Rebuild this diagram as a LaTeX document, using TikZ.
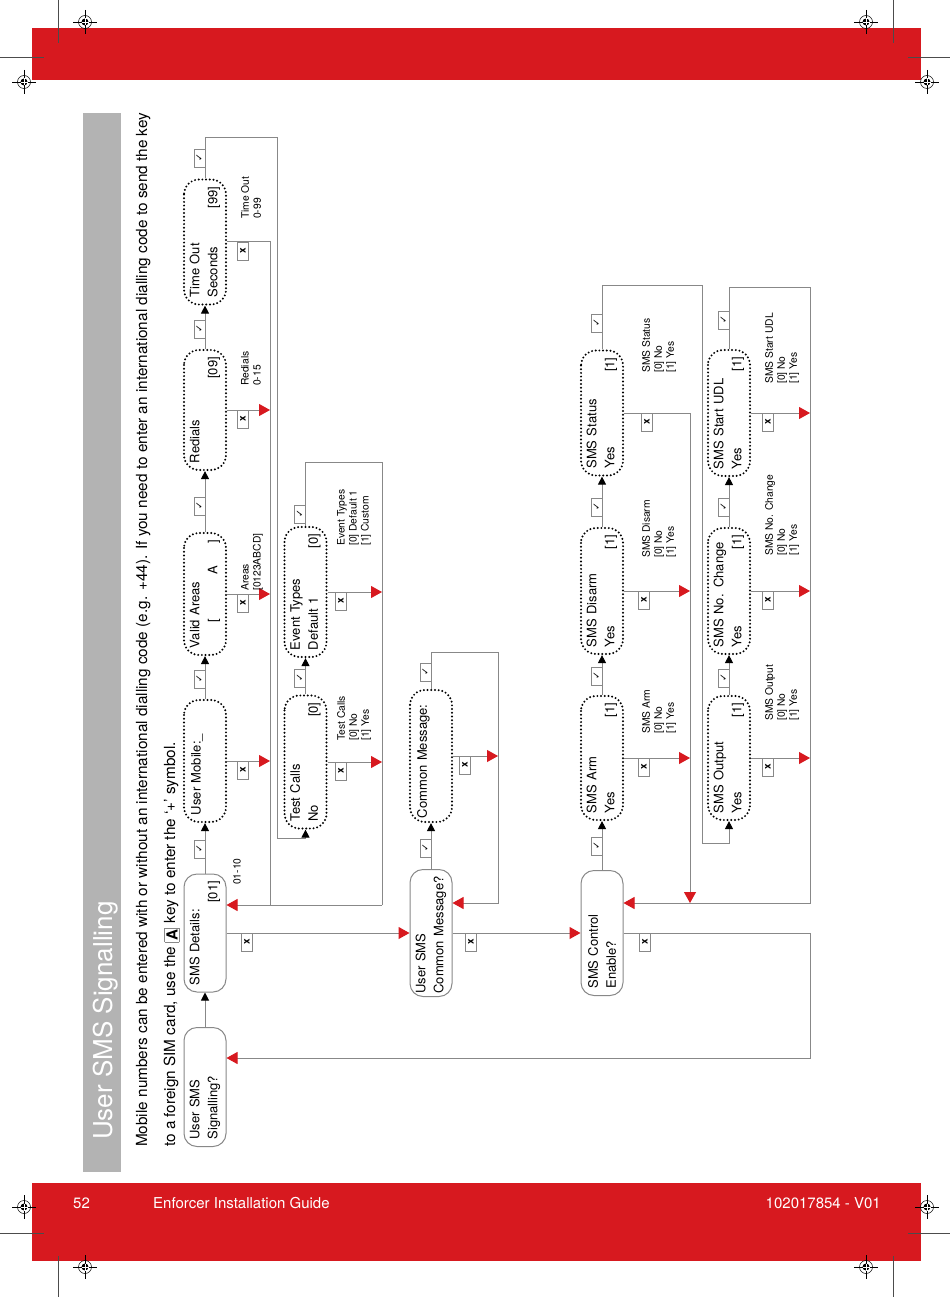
\documentclass[tikz,border=0pt]{standalone}
\usepackage{fontspec}
\setmainfont{TeX Gyre Heros}
\newfontfamily\dv{DejaVu Sans}
\usetikzlibrary{arrows.meta,calc}
\definecolor{hred}{HTML}{D7191F}
\definecolor{lgray}{HTML}{888888}
\definecolor{band}{HTML}{B3B3B3}
\newcommand\akey{\raisebox{-2.5pt}{\setlength\fboxsep{1.5pt}\fcolorbox{lgray}{white}{\bfseries A}}}
\begin{document}
\begin{tikzpicture}[x=1pt,y=-1pt,
  ln/.style={draw=lgray, line width=1pt},
  blk/.style={-{Triangle[length=8pt,width=8pt,color=black]}},
  rd/.style={-{Triangle[length=11pt,width=12pt,color=hred]}},
  bw/.code={\pgfmathsetmacro\tw{#1-14}\tikzset{text width=\tw pt, minimum width=#1pt}},
  boxbase/.style={rotate=90, minimum height=42pt, inner xsep=7pt, inner ysep=0pt, align=left, font=\fontsize{13}{18}\selectfont},
  sbox/.style={boxbase, draw=lgray, line width=1pt, rounded corners=13pt, fill=white},
  dbox/.style={boxbase, draw=black, line width=2.2pt, dash pattern=on 0pt off 3.7pt, line cap=round, rounded corners=15pt},
  ck/.style={rotate=90, draw=lgray, line width=0.8pt, fill=white, minimum width=18pt, minimum height=11pt, inner sep=0pt, font=\dv\fontsize{9.5}{9.5}\selectfont},
  xk/.style={ck, font=\bfseries\fontsize{10}{10}\selectfont},
  lab/.style={rotate=90, anchor=north west, inner sep=0pt, align=left, font=\fontsize{10.3}{12}\selectfont},
  regmark/.pic={
    \draw[line width=0.5pt] (0,0) circle (6.5);
    \fill (0,0) circle (3.5);
    \draw[line width=0.5pt] (-12,0) -- (12,0) (0,-12) -- (0,12);
    \draw[white, line width=0.6pt] (-3.5,0) -- (3.5,0) (0,-3.5) -- (0,3.5);
  },
]
\useasboundingbox (0,0) rectangle (950,1297);
\fill[white] (0,0) rectangle (950,1297);
% bands
\fill[hred] (32,28) rectangle (921,80);
\fill[hred] (32,1183) rectangle (921,1261);
\fill[band] (83,113) rectangle (121,1172);
% crop marks
\draw[line width=0.5pt, black!70] (58,0) -- (58,43) (893,0) -- (893,43) (0,57) -- (44,57) (908,57) -- (950,57)
  (0,1233) -- (44,1233) (908,1233) -- (950,1233) (58,1256) -- (58,1297) (893,1256) -- (893,1297);
\pic at (85,22) {regmark};
\pic at (866,22) {regmark};
\pic at (24,82) {regmark};
\pic at (927,82) {regmark};
\pic at (24,1207) {regmark};
\pic at (927,1207) {regmark};
\pic at (85,1267) {regmark};
\pic at (866,1267) {regmark};
% footer
\node[anchor=base west, inner sep=0pt, text=white, font=\fontsize{15}{15}\selectfont] (pg) at (73,1208) {52};
\node[anchor=base west, inner sep=0pt, text=white, font=\fontsize{15}{15}\selectfont] (gd) at (153,1208) {Enforcer Installation Guide};
\node[anchor=base east, inner sep=0pt, text=white, font=\fontsize{15}{15}\selectfont] (ver) at (881,1208) {102017854 - V01};
% title and intro
\node[rotate=90, anchor=base west, inner sep=0pt, text=white, font=\fontsize{26}{26}\selectfont] (title) at (112,1140) {User SMS Signalling};
\node[rotate=90, anchor=base west, inner sep=0pt, font=\fontsize{15.3}{18}\selectfont] (l1) at (147,1147) {\makebox[1034pt][s]{Mobile numbers can be entered with or without an international dialling code (e.g. +44). If you need to enter an international dialling code to send the key}};
\node[rotate=90, anchor=base west, inner sep=0pt, font=\fontsize{15.3}{18}\selectfont] (l2) at (175,1147) {to a foreign SIM card, use the \akey\ key to enter the ‘+’ symbol.};
% ---- nodes
\node[sbox,bw=119] (sig) at (205,1087) {User SMS\\Signalling?};
\node[sbox,bw=118] (det) at (205,933) {SMS Details:\\\hfill[01]};
\node[dbox,bw=122] (mob) at (205,761) {User Mobile:\_\\\mbox{}};
\node[dbox,bw=122] (area) at (205,594) {Valid Areas\\\hspace*{26pt}[\hspace{44pt}A\hfill]};
\node[dbox,bw=120] (red) at (205,410) {Redials\\\hfill[09]};
\node[dbox,bw=125] (tout) at (205,242) {Time Out\\Seconds\hfill[99]};
\node[dbox,bw=133] (tc) at (305.5,762) {Test Calls\\No\hfill[0]};
\node[dbox,bw=130] (et) at (305.5,592) {Event Types\\Default 1\hfill[0]};
\node[sbox, minimum width=127pt, text width=121pt, inner xsep=3pt] (ucm) at (431,933) {User SMS\\Common Message?};
\node[dbox, minimum width=132pt, text width=124pt, inner xsep=4pt] (cm) at (431,756) {Common Message:\\\mbox{}};
\node[sbox,bw=125] (ctl) at (602,933) {SMS Control\\Enable?};
\node[dbox,bw=124] (arm) at (602,758) {SMS Arm\\Yes\hfill[1]};
\node[dbox,bw=126] (dis) at (602,591) {SMS Disarm\\Yes\hfill[1]};
\node[dbox,bw=125] (sta) at (602,413) {SMS Status\\Yes\hfill[1]};
\node[dbox,bw=124] (out) at (729,758) {SMS Output\\Yes\hfill[1]};
\node[dbox,bw=126] (chg) at (729,591) {SMS No. Change\\Yes\hfill[1]};
\node[dbox,bw=126] (udl) at (729,413) {SMS Start UDL\\Yes\hfill[1]};
% ---- routing points
\coordinate (c1) at (270,905);
\coordinate (c2) at (382,905);
\coordinate (e1) at (382,462);
\coordinate (t2) at (277,138);
\coordinate (t3) at (277,838);
\coordinate (m1) at (498,652);
\coordinate (m2) at (498,903);
\coordinate (s1) at (702,285);
\coordinate (s2) at (702,843);
\coordinate (s3) at (690,903);
\coordinate (u1) at (810,287);
\coordinate (u2) at (810,903);
\coordinate (v1) at (810,1058);
% ---- connectors row 1
\draw[ln,blk] (sig.east) -- (det.west);
\draw[ln,blk] (det.east) -- (mob.west);
\draw[ln,blk] (mob.east) -- (area.west);
\draw[ln,blk] (area.east) -- (red.west);
\draw[ln,blk] (red.east) -- (tout.west);
\draw[ln,blk] (tout.east) |- (t2) -- (t3) -| (tc.west);
\draw[ln] (tout.south) -| (c1);
\draw[ln,rd] (mob.south) -- (mob.south -| c1);
\draw[ln,rd] (area.south) -- (area.south -| c1);
\draw[ln,rd] (red.south) -- (red.south -| c1);
\draw[ln,rd] (c2) -- (det.south |- c2);
% row 2
\draw[ln,blk] (tc.east) -- (et.west);
\draw[ln] (et.east) |- (e1) -- (c2);
\draw[ln,rd] (tc.south) -- (tc.south -| c2);
\draw[ln,rd] (et.south) -- (et.south -| c2);
% row 3
\draw[ln,rd] (det.south) -- (ucm.north);
\draw[ln,blk] (ucm.east) -- (cm.west);
\draw[ln,rd] (cm.east) |- (m1) -- (m2) -- (ucm.south |- m2);
\draw[ln,rd] (cm.south) -- (cm.south -| m1);
\draw[ln,rd] (ucm.south) -- (ctl.north);
% row 4
\draw[ln,blk] (ctl.east) -- (arm.west);
\draw[ln,blk] (arm.east) -- (dis.west);
\draw[ln,blk] (dis.east) -- (sta.west);
\draw[ln,blk] (sta.east) |- (s1) -- (s2) -| (out.west);
\draw[ln,rd] (sta.south) -| (s3);
\draw[ln,rd] (arm.south) -- (arm.south -| s3);
\draw[ln,rd] (dis.south) -- (dis.south -| s3);
\draw[ln,rd] (ctl.south) -| (v1) -- (sig.south |- v1);
% row 5
\draw[ln,blk] (out.east) -- (chg.west);
\draw[ln,blk] (chg.east) -- (udl.west);
\draw[ln,rd] (udl.east) |- (u1) -- (u2) -- (ctl.south |- u2);
\draw[ln,rd] (out.south) -- (out.south -| u1);
\draw[ln,rd] (chg.south) -- (chg.south -| u1);
\draw[ln,rd] (udl.south) -- (udl.south -| u1);
% ---- tick labels
\node[ck] (k1) at (199.5,849) {✓};
\node[ck] (k2) at (199.5,679) {✓};
\node[ck] (k3) at (199.5,506) {✓};
\node[ck] (k4) at (199.5,329) {✓};
\node[ck] (k5) at (199.5,158) {✓};
\node[ck] (k6) at (300,678) {✓};
\node[ck] (k7) at (300,514) {✓};
\node[ck] (k8) at (425.5,848) {✓};
\node[ck] (k9) at (425.5,672) {✓};
\node[ck] (k10) at (596.5,846) {✓};
\node[ck] (k11) at (596.5,676) {✓};
\node[ck] (k12) at (596.5,507) {✓};
\node[ck] (k13) at (596.5,323) {✓};
\node[ck] (k14) at (723.5,678) {✓};
\node[ck] (k15) at (723.5,507) {✓};
\node[ck] (k16) at (723.5,320) {✓};
% ---- cross labels
\node[xk] (x1) at (243,770) {x};
\node[xk] (x2) at (243,603) {x};
\node[xk] (x3) at (243,419) {x};
\node[xk] (x4) at (243,251) {x};
\node[xk] (x5) at (247,942) {x};
\node[xk] (x6) at (341,771) {x};
\node[xk] (x7) at (341,601) {x};
\node[xk] (x8) at (465,765) {x};
\node[xk] (x9) at (471,942) {x};
\node[xk] (x10) at (644,767) {x};
\node[xk] (x11) at (644,600) {x};
\node[xk] (x12) at (647,422) {x};
\node[xk] (x13) at (645,942) {x};
\node[xk] (x14) at (768,767) {x};
\node[xk] (x15) at (768,600) {x};
\node[xk] (x16) at (768,422) {x};
% ---- value labels
\node[lab] (n1) at (233,885) {01-10};
\node[lab] (n2) at (241,591) {Areas\\{}[0123ABCD]};
\node[lab] (n3) at (241,386) {Redials\\0-15};
\node[lab] (n4) at (241,219) {Time Out\\0-99};
\node[lab] (n5) at (337,741) {Test Calls\\{}[0] No\\{}[1] Yes};
\node[lab] (n6) at (337,546) {Event Types\\{}[0] Default 1\\{}[1] Custom};
\node[lab] (n7) at (642,734) {SMS Arm\\{}[0] No\\{}[1] Yes};
\node[lab] (n8) at (642,558) {SMS Disarm\\{}[0] No\\{}[1] Yes};
\node[lab] (n9) at (642,373) {SMS Status\\{}[0] No\\{}[1] Yes};
\node[lab] (n10) at (765,721) {SMS Output\\{}[0] No\\{}[1] Yes};
\node[lab] (n11) at (765,556) {SMS No. Change\\{}[0] No\\{}[1] Yes};
\node[lab] (n12) at (765,384) {SMS Start UDL\\{}[0] No\\{}[1] Yes};
\end{tikzpicture}
\end{document}
